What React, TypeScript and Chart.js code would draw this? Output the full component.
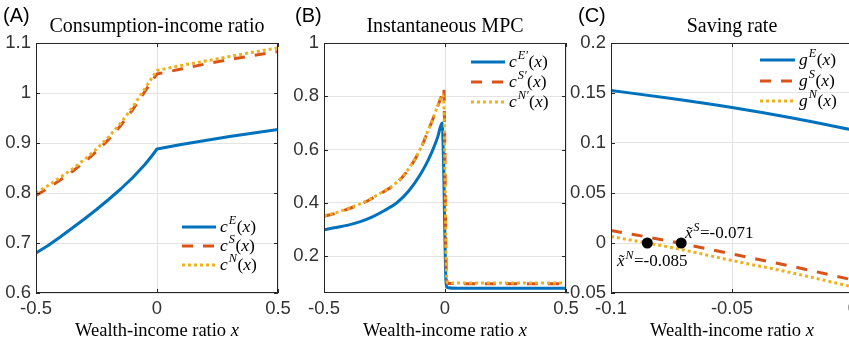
import React, { useEffect, useRef } from 'react';
import { Chart, registerables } from 'chart.js';

Chart.register(...registerables);

const BLUE = '#0072BD';
const ORANGE = '#D95319';
const YELLOW = '#EDB120';
const SERIF = '"Liberation Serif", "Times New Roman", serif';
const SANS = '"Liberation Sans", Arial, sans-serif';
const W = 870;
const H = 342;

// ---------- Panel A: consumption-income ratio ----------
const xA = [-0.5, -0.45, -0.4, -0.35, -0.3, -0.25, -0.2, -0.15, -0.1, -0.05, -0.02, 0, 0.1, 0.2, 0.3, 0.4, 0.5];
const cE = [0.68, 0.695, 0.712, 0.73, 0.748, 0.767, 0.787, 0.808, 0.831, 0.857, 0.875, 0.888, 0.897, 0.905, 0.913, 0.92, 0.927];
const cS = [0.795, 0.81, 0.826, 0.843, 0.862, 0.883, 0.907, 0.935, 0.967, 1.003, 1.025, 1.038, 1.048, 1.058, 1.067, 1.075, 1.083];
const cN = [0.8, 0.815, 0.831, 0.848, 0.867, 0.888, 0.912, 0.94, 0.972, 1.009, 1.031, 1.045, 1.055, 1.064, 1.073, 1.082, 1.09];
const xTicksA = [-0.5, 0, 0.5];
const yTicksA = [0.6, 0.7, 0.8, 0.9, 1, 1.1];

// ---------- Panel B: instantaneous MPC ----------
const xBE = [-0.5, -0.45, -0.4, -0.35, -0.3, -0.25, -0.2, -0.15, -0.1, -0.07, -0.05, -0.03, -0.012, -0.006, -0.002, 0.002, 0.005, 0.01, 0.05, 0.5];
const mpcE = [0.3, 0.308, 0.317, 0.33, 0.348, 0.372, 0.4, 0.445, 0.51, 0.56, 0.6, 0.648, 0.7, 0.55, 0.35, 0.16, 0.095, 0.083, 0.08, 0.08];
const xBS = [-0.5, -0.45, -0.4, -0.35, -0.3, -0.25, -0.2, -0.15, -0.1, -0.07, -0.05, -0.03, -0.015, -0.005, -0.002, 0.001, 0.004, 0.007, 0.012, 0.5];
const mpcS = [0.35, 0.362, 0.378, 0.395, 0.418, 0.444, 0.475, 0.527, 0.605, 0.67, 0.715, 0.763, 0.8, 0.83, 0.7, 0.45, 0.2, 0.11, 0.098, 0.097];
const xBN = [-0.5, -0.45, -0.4, -0.35, -0.3, -0.25, -0.2, -0.15, -0.1, -0.07, -0.05, -0.03, -0.01, -0.004, 0, 0.004, 0.008, 0.012, 0.5];
const mpcN = [0.352, 0.364, 0.38, 0.397, 0.42, 0.446, 0.477, 0.529, 0.607, 0.672, 0.717, 0.765, 0.805, 0.75, 0.5, 0.22, 0.11, 0.1, 0.1];
const xTicksB = [-0.5, 0, 0.5];
const yTicksB = [0.2, 0.4, 0.6, 0.8, 1];

// ---------- Panel C: saving rate ----------
const xC = [-0.1, -0.075, -0.05, -0.025, 0];
const gE = [0.1525, 0.1445, 0.1355, 0.125, 0.113];
const gS = [0.0125, 0.0015, -0.011, -0.0235, -0.037];
const xCN = [-0.1, -0.085, -0.075, -0.05, -0.025, 0];
const gN = [0.0065, 0, -0.0045, -0.0175, -0.03, -0.044];
const rootX = [-0.085, -0.071];
const rootY = [0, 0];
const xTicksC = [-0.1, -0.05, 0];
const yTicksC = [-0.05, 0, 0.05, 0.1, 0.15, 0.2];

type Seg = { t: string; it?: boolean; sup?: boolean; tilde?: boolean };

function segFont(s: Seg, size: number) {
  const fs = s.sup ? size * 0.7 : size;
  return `${s.it ? 'italic ' : ''}${fs}px ${SERIF}`;
}

function measureRich(ctx: CanvasRenderingContext2D, segs: Seg[], size: number) {
  let w = 0;
  for (const s of segs) {
    ctx.font = segFont(s, size);
    w += ctx.measureText(s.t).width + (s.sup ? 1.5 : 0);
  }
  return w;
}

function drawRich(ctx: CanvasRenderingContext2D, segs: Seg[], x: number, y: number, size: number) {
  let cx = x;
  ctx.textBaseline = 'alphabetic';
  for (const s of segs) {
    const fs = s.sup ? size * 0.7 : size;
    ctx.font = segFont(s, size);
    ctx.textAlign = 'left';
    const dy = s.sup ? -size * 0.42 : 0;
    const sx = s.sup ? cx + 1 : cx;
    ctx.fillText(s.t, sx, y + dy);
    const w = ctx.measureText(s.t).width;
    if (s.tilde) {
      ctx.font = `${fs}px ${SERIF}`;
      ctx.textAlign = 'center';
      ctx.fillText('\u02DC', cx + w / 2 + size * 0.06, y + dy);
      ctx.textAlign = 'left';
    }
    cx += w + (s.sup ? 1.5 : 0);
  }
}

const fmt = (v: number) => {
  const s = parseFloat(Number(v).toFixed(4)).toString();
  return s === '-0' ? '0' : s;
};

interface Series { x: number[]; y: number[]; color: string; dash: number[]; order: number }
interface Panel {
  left: number; right: number; top: number; bottom: number;
  xMin: number; xMax: number; yMin: number; yMax: number;
  xTicks: number[]; yTicks: number[];
  smooth: boolean;
  series: Series[];
  title: string; tag: string; tagX: number;
  legend: { x1: number; x2: number; tx: number; ys: number[]; labels: Seg[][] };
  markers?: { x: number[]; y: number[] };
  notes?: { segs: Seg[]; x: number; y: number }[];
}

const leg = (f: string, sup: string): Seg[] => [
  { t: f, it: true }, { t: sup, it: true, sup: true }, { t: '(' }, { t: 'x', it: true }, { t: ')' },
];

const panels: Panel[] = [
  {
    left: 36, right: 278, top: 43, bottom: 293,
    xMin: -0.5, xMax: 0.5, yMin: 0.6, yMax: 1.1, xTicks: xTicksA, yTicks: yTicksA, smooth: false,
    series: [
      { x: xA, y: cE, color: BLUE, dash: [], order: 3 },
      { x: xA, y: cS, color: ORANGE, dash: [11, 10], order: 2 },
      { x: xA, y: cN, color: YELLOW, dash: [3, 3], order: 1 },
    ],
    title: 'Consumption-income ratio', tag: '(A)', tagX: 3,
    legend: { x1: 182, x2: 216, tx: 220, ys: [227, 246, 265], labels: [leg('c', 'E'), leg('c', 'S'), leg('c', 'N')] },
  },
  {
    left: 324, right: 566, top: 43, bottom: 293,
    xMin: -0.5, xMax: 0.5, yMin: 0.0625, yMax: 1, xTicks: xTicksB, yTicks: yTicksB, smooth: true,
    series: [
      { x: xBE, y: mpcE, color: BLUE, dash: [], order: 3 },
      { x: xBS, y: mpcS, color: ORANGE, dash: [11, 10], order: 2 },
      { x: xBN, y: mpcN, color: YELLOW, dash: [3, 3], order: 1 },
    ],
    title: 'Instantaneous MPC', tag: '(B)', tagX: 295,
    legend: { x1: 471, x2: 505, tx: 509, ys: [62, 82, 102], labels: [leg('c', 'E\u2032'), leg('c', 'S\u2032'), leg('c', 'N\u2032')] },
  },
  {
    left: 611, right: 853, top: 43, bottom: 293,
    xMin: -0.1, xMax: 0, yMin: -0.05, yMax: 0.2, xTicks: xTicksC, yTicks: yTicksC, smooth: true,
    series: [
      { x: xC, y: gE, color: BLUE, dash: [], order: 3 },
      { x: xC, y: gS, color: ORANGE, dash: [11, 10], order: 2 },
      { x: xCN, y: gN, color: YELLOW, dash: [3, 3], order: 1 },
    ],
    title: 'Saving rate', tag: '(C)', tagX: 578,
    legend: { x1: 760, x2: 795, tx: 799, ys: [60, 81, 101], labels: [leg('g', 'E'), leg('g', 'S'), leg('g', 'N')] },
    markers: { x: rootX, y: rootY },
    notes: [
      { segs: [{ t: 'x', it: true, tilde: true }, { t: 'S', it: true, sup: true }, { t: '=-0.071' }], x: 685, y: 238 },
      { segs: [{ t: 'x', it: true, tilde: true }, { t: 'N', it: true, sup: true }, { t: '=-0.085' }], x: 617, y: 266 },
    ],
  },
];

function makeChart(canvas: HTMLCanvasElement, p: Panel) {
  const tickFont = { family: SANS, size: 18.5 };
  const datasets: any[] = p.series.map((s) => ({
    data: s.x.map((x, i) => ({ x, y: s.y[i] })),
    borderColor: s.color,
    backgroundColor: s.color,
    borderWidth: 3,
    borderDash: s.dash,
    borderCapStyle: 'butt',
    borderJoinStyle: 'round',
    pointRadius: 0,
    tension: 0,
    cubicInterpolationMode: p.smooth ? 'monotone' : 'default',
    fill: false,
    order: s.order,
  }));
  if (p.markers) {
    const m = p.markers;
    datasets.push({
      data: m.x.map((x, i) => ({ x, y: m.y[i] })),
      showLine: false,
      pointRadius: 5.5,
      pointBackgroundColor: '#000',
      pointBorderColor: '#000',
      pointBorderWidth: 0,
      order: 0,
    });
  }
  const yAxisW = Math.min(p.left, 55);
  const xAxisH = 45;
  const deco = {
    id: 'deco-' + p.tag,
    afterDraw(chart: any) {
      const ctx: CanvasRenderingContext2D = chart.ctx;
      const xs = chart.scales.x;
      const ys = chart.scales.y;
      const { left, right, top, bottom } = chart.chartArea;
      ctx.save();
      ctx.setLineDash([]);
      ctx.strokeStyle = '#262626';
      ctx.lineWidth = 1;
      ctx.beginPath();
      for (const v of p.xTicks) {
        const px = Math.round(xs.getPixelForValue(v)) + 0.5;
        ctx.moveTo(px, bottom); ctx.lineTo(px, bottom - 4);
        ctx.moveTo(px, top); ctx.lineTo(px, top + 4);
      }
      for (const v of p.yTicks) {
        const py = Math.round(ys.getPixelForValue(v)) + 0.5;
        ctx.moveTo(left, py); ctx.lineTo(left + 4, py);
        ctx.moveTo(right, py); ctx.lineTo(right - 4, py);
      }
      ctx.stroke();
      ctx.strokeRect(Math.round(left) + 0.5, Math.round(top) + 0.5, Math.round(right - left) - 1, Math.round(bottom - top) - 1);

      // legend
      const lg = p.legend;
      p.series.forEach((s, i) => {
        ctx.strokeStyle = s.color;
        ctx.lineWidth = 3;
        ctx.lineCap = 'butt';
        ctx.setLineDash(s.dash);
        ctx.beginPath();
        ctx.moveTo(lg.x1, lg.ys[i]);
        ctx.lineTo(lg.x2, lg.ys[i]);
        ctx.stroke();
        ctx.setLineDash([]);
        ctx.fillStyle = '#000';
        drawRich(ctx, lg.labels[i], lg.tx, lg.ys[i] + 4.5, 17.5);
      });

      // notes
      ctx.fillStyle = '#000';
      (p.notes || []).forEach((n) => drawRich(ctx, n.segs, n.x, n.y, 17));

      // title
      ctx.fillStyle = '#000';
      ctx.font = `20px ${SERIF}`;
      ctx.textAlign = 'center';
      ctx.textBaseline = 'alphabetic';
      ctx.fillText(p.title, (left + right) / 2, 32);

      // x label
      const xl: Seg[] = [{ t: 'Wealth-income ratio ' }, { t: 'x', it: true }];
      const wl = measureRich(ctx, xl, 18.5);
      drawRich(ctx, xl, (left + right) / 2 - wl / 2, 336, 18.5);

      // panel tag
      ctx.font = `20px ${SANS}`;
      ctx.textAlign = 'left';
      ctx.fillText(p.tag, p.tagX, 21.5);
      ctx.restore();
    },
  };

  return new Chart(canvas, {
    type: 'line',
    data: { datasets },
    options: {
      animation: false,
      responsive: false,
      devicePixelRatio: 1,
      events: [],
      layout: {
        padding: { left: p.left - yAxisW, right: W - p.right, top: p.top, bottom: H - p.bottom - xAxisH },
      },
      plugins: { legend: { display: false }, tooltip: { enabled: false }, title: { display: false } },
      scales: {
        x: {
          type: 'linear',
          min: p.xMin,
          max: p.xMax,
          afterBuildTicks: (s: any) => { s.ticks = p.xTicks.map((v) => ({ value: v })); },
          afterFit: (s: any) => { s.height = xAxisH; s.paddingLeft = 0; s.paddingRight = 0; },
          ticks: { callback: (v: any) => fmt(v), font: tickFont, color: '#333', padding: 5, maxRotation: 0, autoSkip: false },
          grid: { color: '#e3e3e3', lineWidth: 1, drawTicks: false },
          border: { display: false },
        },
        y: {
          type: 'linear',
          min: p.yMin,
          max: p.yMax,
          afterBuildTicks: (s: any) => { s.ticks = p.yTicks.map((v) => ({ value: v })); },
          afterFit: (s: any) => { s.width = yAxisW; s.paddingTop = 0; s.paddingBottom = 0; },
          ticks: { callback: (v: any) => fmt(v), font: tickFont, color: '#333', padding: 5, autoSkip: false },
          grid: { color: '#e3e3e3', lineWidth: 1, drawTicks: false },
          border: { display: false },
        },
      },
    },
    plugins: [deco],
  } as any);
}

function PanelCanvas({ p }: { p: Panel }) {
  const ref = useRef<HTMLCanvasElement | null>(null);
  useEffect(() => {
    if (!ref.current) return;
    const ch = makeChart(ref.current, p);
    return () => ch.destroy();
  }, [p]);
  return (
    <canvas
      ref={ref}
      width={W}
      height={H}
      style={{ position: 'absolute', left: 0, top: 0, width: W, height: H }}
    />
  );
}

export default function App() {
  return (
    <div style={{ position: 'fixed', left: 0, top: 0, width: 849, height: 342, overflow: 'hidden', background: '#fff' }}>
      {panels.map((p) => (
        <PanelCanvas key={p.tag} p={p} />
      ))}
    </div>
  );
}
